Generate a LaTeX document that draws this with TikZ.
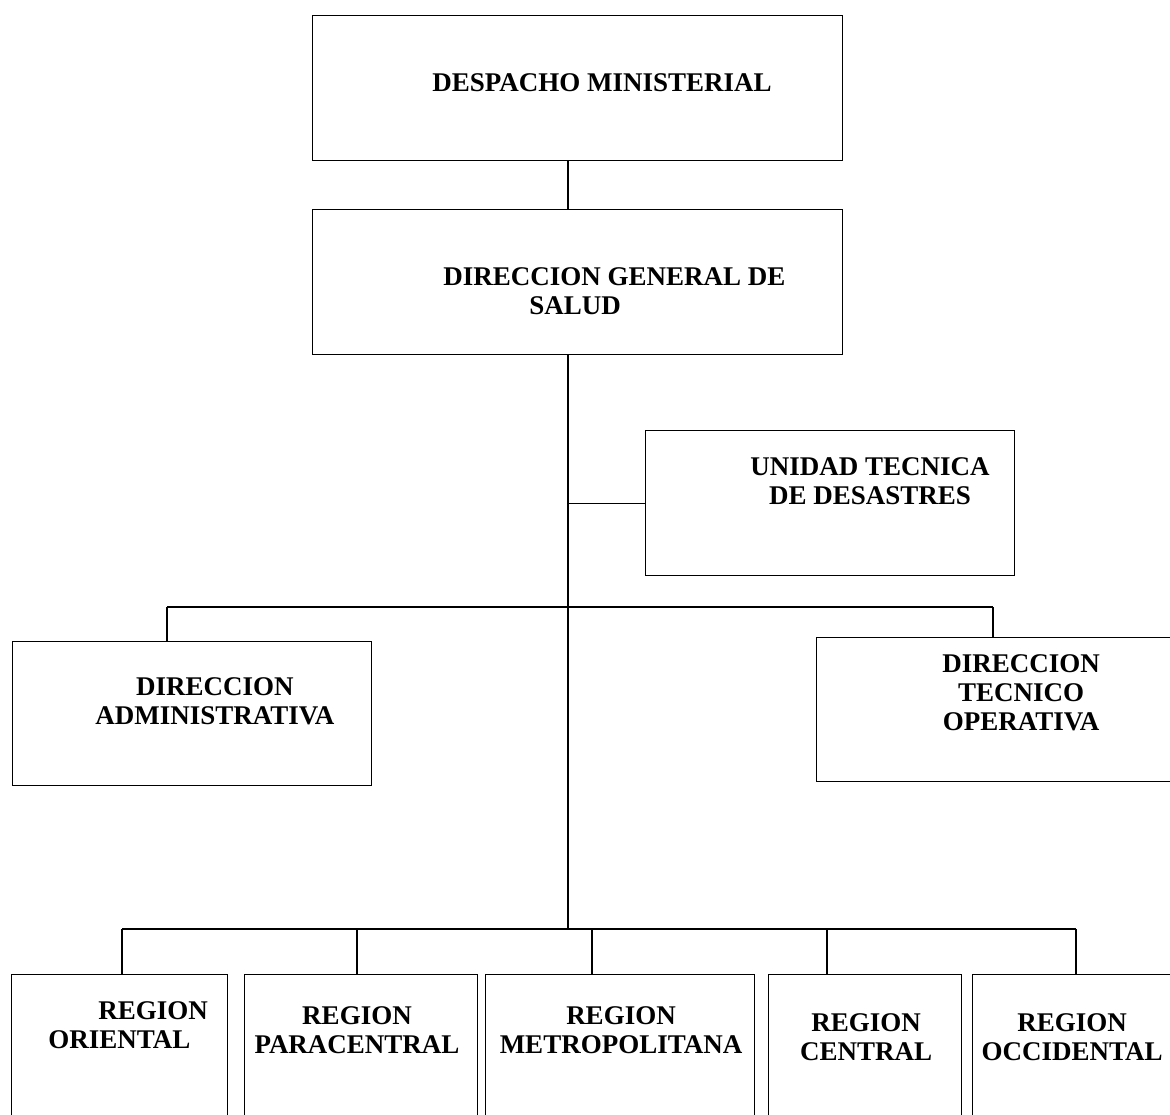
\documentclass[tikz,border=0pt]{standalone}
\usepackage{fontspec}
\setmainfont{Liberation Serif}
\usetikzlibrary{positioning}

\begin{document}
\begin{tikzpicture}[x=0.5pt, y=-0.5pt,
  unit/.style={draw, line width=0.7pt, inner sep=0pt, anchor=north west},
  lbl/.style={font=\bfseries\fontsize{13.5}{14.5}\selectfont, align=center, inner sep=0pt},
  link/.style={line width=0.6pt}]

  \useasboundingbox (0,0) rectangle (1170,1114);

  % Top level
  \node[unit, minimum width=265pt, minimum height=72.5pt] (despacho) at (312,15) {};
  \node[lbl] (despachoT) at (602,83) {DESPACHO MINISTERIAL};

  \node[unit, minimum width=265pt, minimum height=72.5pt] (general) at (312,209) {};
  \node[lbl, align=left, anchor=west] (generalT) at (443,291) {DIRECCION GENERAL DE\\\hspace*{43pt}SALUD};

  % Spine
  \coordinate (spine) at (568,929);
  \draw[link] (despacho.south -| spine) -- (general.north -| spine);
  \draw[link] (general.south -| spine) -- (spine);

  % Staff unit
  \node[unit, minimum width=184.5pt, minimum height=72.5pt] (unidad) at (645,430) {};
  \node[lbl] (unidadT) at (870,481) {UNIDAD TECNICA\\DE DESASTRES};
  \draw[link] (unidad.west) -- (unidad.west -| spine);

  % Second level
  \node[unit, minimum width=179.5pt, minimum height=72pt] (admin) at (12,641) {};
  \node[lbl] (adminT) at (215,701) {DIRECCION\\ADMINISTRATIVA};

  \node[unit, minimum width=179.5pt, minimum height=72pt] (tecnico) at (816,637) {};
  \node[lbl] (tecnicoT) at (1021,693) {DIRECCION\\TECNICO\\OPERATIVA};

  \coordinate (dadmin) at (167,607);
  \coordinate (dtecnico) at (993,607);
  \draw[link] (dadmin) -- (dtecnico);
  \draw[link] (dadmin) -- (dadmin |- admin.north);
  \draw[link] (dtecnico) -- (dtecnico |- tecnico.north);

  % Regions
  \node[unit, minimum width=108pt, minimum height=78.5pt] (oriental) at (11,974) {};
  \node[lbl, align=left, anchor=west] (orientalT) at (48,1025) {\hspace*{25pt}REGION\\ORIENTAL};

  \node[unit, minimum width=116.5pt, minimum height=78.5pt] (paracentral) at (244,974) {};
  \node[lbl] (paracentralT) at (357,1030) {REGION\\PARACENTRAL};

  \node[unit, minimum width=134.5pt, minimum height=78.5pt] (metro) at (485,974) {};
  \node[lbl] (metroT) at (621,1030) {REGION\\METROPOLITANA};

  \node[unit, minimum width=96.5pt, minimum height=78.5pt] (central) at (768,974) {};
  \node[lbl] (centralT) at (866,1037) {REGION\\CENTRAL};

  \node[unit, minimum width=102pt, minimum height=78.5pt] (occidental) at (972,974) {};
  \node[lbl] (occidentalT) at (1072,1037) {REGION\\OCCIDENTAL};

  \draw[link] (122,929) coordinate (busL) -- (1076,929) coordinate (busR);
  \foreach \r/\x in {oriental/122, paracentral/357, metro/592, central/827, occidental/1076} {
    \coordinate (d\r) at (\x,929);
    \draw[link] (d\r) -- (d\r |- \r.north);
  }
\end{tikzpicture}
\end{document}
